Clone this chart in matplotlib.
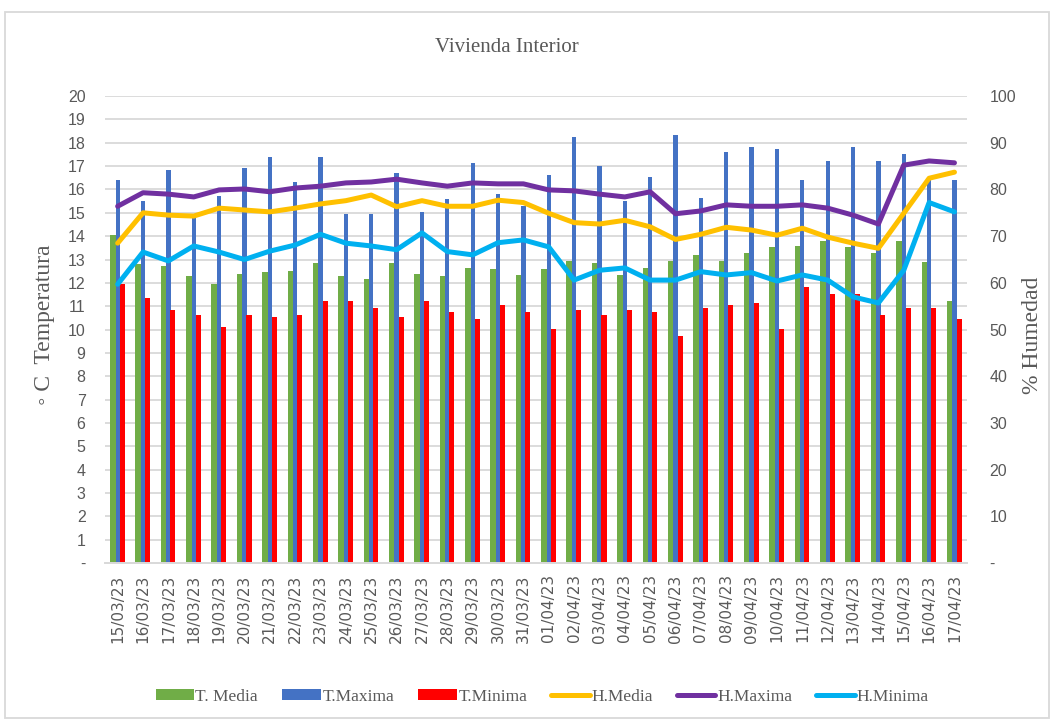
import matplotlib.pyplot as plt
from matplotlib.patches import Rectangle
import numpy as np

fechas = ["15/03/23", "16/03/23", "17/03/23", "18/03/23", "19/03/23", "20/03/23",
          "21/03/23", "22/03/23", "23/03/23", "24/03/23", "25/03/23", "26/03/23",
          "27/03/23", "28/03/23", "29/03/23", "30/03/23", "31/03/23", "01/04/23",
          "02/04/23", "03/04/23", "04/04/23", "05/04/23", "06/04/23", "07/04/23",
          "08/04/23", "09/04/23", "10/04/23", "11/04/23", "12/04/23", "13/04/23",
          "14/04/23", "15/04/23", "16/04/23", "17/04/23"]

t_media = [14.05, 12.8, 12.73, 12.29, 11.95, 12.39, 12.45, 12.49, 12.85, 12.29, 12.15, 12.85,
           12.4, 12.29, 12.65, 12.59, 12.33, 12.59, 12.93, 12.85, 12.33, 12.65, 12.93, 13.19,
           12.93, 13.29, 13.55, 13.6, 13.79, 13.55, 13.29, 13.79, 12.89, 11.23]
t_maxima = [16.4, 15.5, 16.83, 14.83, 15.7, 16.9, 17.4, 16.3, 17.4, 14.95, 14.95, 16.7,
            15.05, 15.6, 17.12, 15.8, 15.3, 16.6, 18.23, 17.0, 15.5, 16.52, 18.33, 15.62,
            17.61, 17.82, 17.72, 16.42, 17.22, 17.82, 17.22, 17.52, 16.4, 16.42]
t_minima = [11.95, 11.35, 10.83, 10.63, 10.12, 10.63, 10.52, 10.63, 11.23, 11.23, 10.93, 10.52,
            11.23, 10.74, 10.44, 11.04, 10.74, 10.03, 10.83, 10.63, 10.83, 10.74, 9.73, 10.93,
            11.04, 11.13, 10.03, 11.83, 11.53, 11.53, 10.63, 10.93, 10.93, 10.44]

h_media = [68.5, 75.0, 74.5, 74.3, 76.0, 75.6, 75.2, 76.0, 76.9, 77.6, 78.8, 76.3,
           77.6, 76.4, 76.4, 77.7, 77.2, 74.9, 72.9, 72.6, 73.4, 72.0, 69.3, 70.4,
           71.9, 71.3, 70.2, 71.7, 69.8, 68.5, 67.4, 74.9, 82.4, 83.7]
h_maxima = [76.4, 79.3, 79.0, 78.4, 79.9, 80.1, 79.5, 80.3, 80.7, 81.4, 81.6, 82.2,
            81.4, 80.7, 81.4, 81.2, 81.2, 79.9, 79.7, 79.0, 78.4, 79.5, 74.8, 75.4,
            76.7, 76.4, 76.4, 76.7, 76.0, 74.5, 72.6, 85.2, 86.1, 85.7]
h_minima = [59.7, 66.6, 64.7, 67.9, 66.6, 65.0, 66.8, 68.1, 70.4, 68.5, 67.9, 67.1,
            70.7, 66.7, 66.0, 68.6, 69.2, 67.7, 60.6, 62.7, 63.2, 60.6, 60.6, 62.4,
            61.7, 62.2, 60.4, 61.7, 60.6, 57.0, 55.7, 62.7, 77.2, 75.2]

gris = "#595959"
fuente = "Liberation Sans"
serif = "Liberation Serif"

fig = plt.figure(figsize=(10.54, 7.22), dpi=100)
ax = fig.add_axes([0.0996, 0.220, 0.818, 0.647])
ax2 = ax.twinx()

x = np.arange(len(fechas))
ax.bar(x - 0.19, t_media, width=0.22, color="#70AD47", label="T. Media", zorder=2)
ax.bar(x, t_maxima, width=0.17, color="#4472C4", label="T.Maxima", zorder=2)
ax.bar(x + 0.18, t_minima, width=0.2, color="#FF0000", label="T.Minima", zorder=2)

lw = 3.6
ax2.plot(x, h_media, color="#FFC000", lw=lw, label="H.Media", solid_capstyle="round")
ax2.plot(x, h_maxima, color="#7030A0", lw=lw, label="H.Maxima", solid_capstyle="round")
ax2.plot(x, h_minima, color="#00B0F0", lw=lw, label="H.Minima", solid_capstyle="round")

ax.set_xlim(-0.5, len(fechas) - 0.5)
ax.set_ylim(0, 20)
ax2.set_ylim(0, 100)

ax.set_yticks(range(0, 21))
ax.set_yticklabels(["-"] + [str(i) for i in range(1, 21)])
ax2.set_yticks(range(0, 101, 10))
ax2.set_yticklabels(["-"] + [str(i) for i in range(10, 101, 10)])
ax.set_xticks(x)
ax.set_xticklabels(fechas, rotation=90)

ax.grid(axis="y", color="#d9d9d9", lw=1.3, zorder=0)
ax.set_axisbelow(True)
for a in (ax, ax2):
    for s in ("top", "left", "right"):
        a.spines[s].set_visible(False)
    a.spines["bottom"].set_color("#d9d9d9")
    a.spines["bottom"].set_linewidth(1.3)
    a.tick_params(length=0)
ax.tick_params(axis="y", labelsize=11.5, labelcolor=gris, pad=14)
ax2.tick_params(axis="y", labelsize=11.5, labelcolor=gris, pad=16)
ax.tick_params(axis="x", labelsize=11, labelcolor=gris, pad=8)
for t in ax.get_yticklabels() + ax2.get_yticklabels():
    t.set_fontfamily(fuente)
for t in ax.get_xticklabels():
    t.set_fontfamily("DejaVu Sans")

fig.text(507 / 1054, 1 - 47 / 722, "Vivienda Interior", ha="center", va="center",
         fontsize=15, color=gris, family=serif)
fig.text(45 / 1054, 1 - 325 / 722, "◦ C  Temperatura", rotation=90, ha="center",
         va="center", fontsize=17, color=gris, family=[serif, "DejaVu Sans"])
fig.text(1032 / 1054, 1 - 335 / 722, "% Humedad", rotation=90, ha="center",
         va="center", fontsize=17, color=gris, family=serif)

h1, l1 = ax.get_legend_handles_labels()
h2, l2 = ax2.get_legend_handles_labels()
fig.legend(h1 + h2, l1 + l2, loc="center", bbox_to_anchor=(542 / 1054, 1 - 697 / 722),
           ncol=6, frameon=False, handlelength=2.2, handleheight=0.6, handletextpad=0.1,
           columnspacing=1.4, prop={"family": serif, "size": 12.5}, labelcolor=gris)

fig.patches.append(Rectangle((5 / 1054, 1 - 718 / 722), 1044 / 1054, 706 / 722,
                             transform=fig.transFigure, fill=False, edgecolor="#d9d9d9",
                             lw=1.3))

fig.savefig("out.png", dpi=100)
